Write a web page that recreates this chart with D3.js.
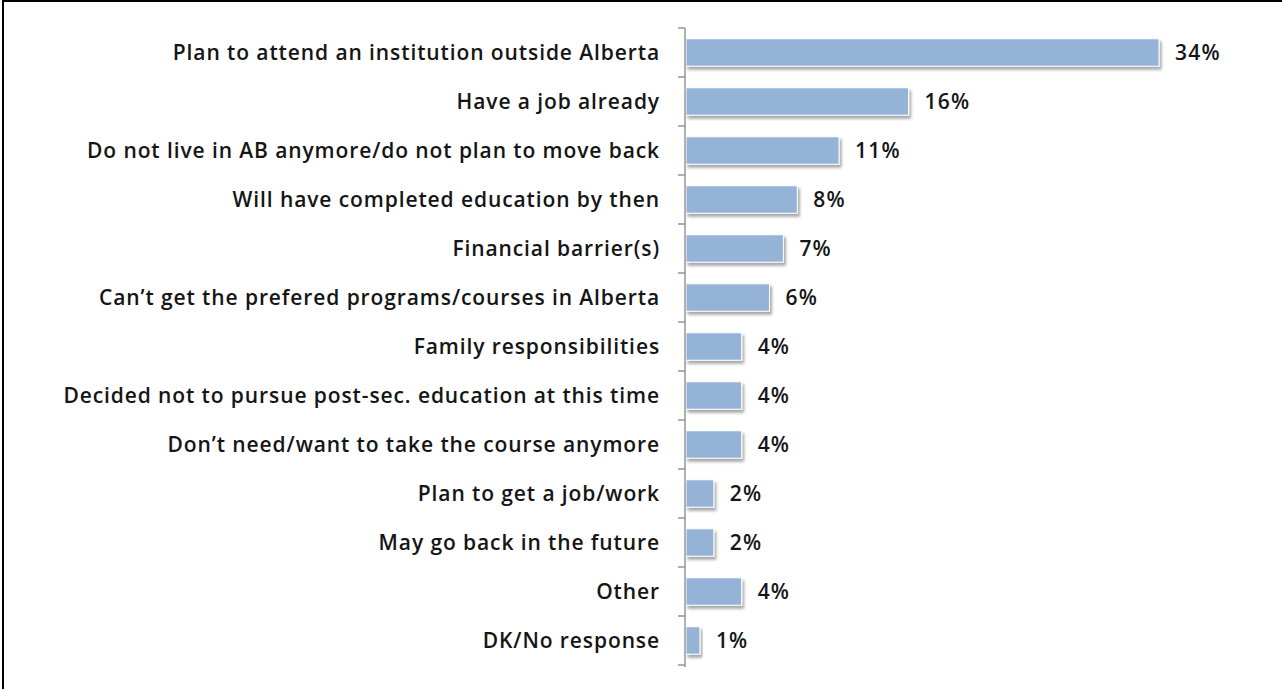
<!DOCTYPE html>
<html>
<head>
<meta charset="utf-8">
<script src="https://cdn.jsdelivr.net/npm/d3@7"></script>
<style>
  html, body { margin: 0; padding: 0; background: #fff; }
  svg { display: block; }
  text { font-family: "Open Sans", Lato, sans-serif; font-weight: 600; fill: #151515; }
</style>
</head>
<body>
<svg id="chart" width="1282" height="689"></svg>
<script>
// Reasons for not attending a post-secondary institution in Alberta
const categories = [
  "Plan to attend an institution outside Alberta",
  "Have a job already",
  "Do not live in AB anymore/do not plan to move back",
  "Will have completed education by then",
  "Financial barrier(s)",
  "Can\u2019t get the prefered programs/courses in Alberta",
  "Family responsibilities",
  "Decided not to pursue post-sec. education at this time",
  "Don\u2019t need/want to take the course anymore",
  "Plan to get a job/work",
  "May go back in the future",
  "Other",
  "DK/No response"
];
const percentValues = [34, 16, 11, 8, 7, 6, 4, 4, 4, 2, 2, 4, 1];

const svg = d3.select("#chart");

// Frame edges
svg.append("line").attr("x1", 3).attr("y1", 1).attr("x2", 1282).attr("y2", 1)
  .attr("stroke", "#000").attr("stroke-width", 2);
svg.append("line").attr("x1", 3).attr("y1", 0).attr("x2", 3).attr("y2", 689)
  .attr("stroke", "#000").attr("stroke-width", 2);

const axisX = 685;
const fontSize = 21;
const x = d3.scaleLinear().domain([0, 34]).range([axisX, 1158]);
const y = d3.scaleBand().domain(categories).range([28, 665]).paddingInner(0.44).paddingOuter(0.22);

const defs = svg.append("defs");
const shadow = defs.append("filter").attr("id", "barShadow")
  .attr("x", "-10%").attr("y", "-20%").attr("width", "130%").attr("height", "160%");
shadow.append("feGaussianBlur").attr("in", "SourceAlpha").attr("stdDeviation", 1.6).attr("result", "blur");
shadow.append("feOffset").attr("in", "blur").attr("dx", 2).attr("dy", 2.5).attr("result", "off");
shadow.append("feComponentTransfer").attr("in", "off").attr("result", "soft")
  .append("feFuncA").attr("type", "linear").attr("slope", 0.35);
const merge = shadow.append("feMerge");
merge.append("feMergeNode").attr("in", "soft");
merge.append("feMergeNode").attr("in", "SourceGraphic");

// Bars
svg.append("g").selectAll("rect")
  .data(percentValues)
  .join("rect")
  .attr("x", x(0) + 1)
  .attr("y", (d, i) => y(categories[i]))
  .attr("width", d => x(d) - x(0))
  .attr("height", y.bandwidth())
  .attr("fill", "#95b3d7")
  .attr("stroke", "#fff")
  .attr("stroke-width", 1)
  .attr("filter", "url(#barShadow)");

// Value labels
svg.append("g").selectAll("text")
  .data(percentValues)
  .join("text")
  .attr("x", d => x(d) + 17)
  .attr("y", (d, i) => y(categories[i]) + y.bandwidth() / 2)
  .attr("dy", "0.36em")
  .attr("font-size", fontSize)
  .attr("letter-spacing", 1.2)
  .text(d => d + "%");

// Category axis with ticks between bands
const axisG = svg.append("g");
const [r0, r1] = y.range();
axisG.append("line").attr("x1", axisX).attr("x2", axisX).attr("y1", r0).attr("y2", r1 + 2)
  .attr("stroke", "#868686").attr("stroke-width", 1.3);
const boundaries = d3.range(categories.length + 1).map(i => r0 + i * (r1 - r0) / categories.length);
axisG.selectAll("line.tick").data(boundaries).join("line")
  .attr("class", "tick")
  .attr("x1", axisX - 7).attr("x2", axisX)
  .attr("y1", d => d).attr("y2", d => d)
  .attr("stroke", "#868686").attr("stroke-width", 1.3);

axisG.selectAll("text").data(categories).join("text")
  .attr("x", axisX - 25)
  .attr("y", d => y(d) + y.bandwidth() / 2)
  .attr("dy", "0.36em")
  .attr("text-anchor", "end")
  .attr("font-size", fontSize)
  .attr("letter-spacing", 0.9)
  .text(d => d);
</script>
</body>
</html>
